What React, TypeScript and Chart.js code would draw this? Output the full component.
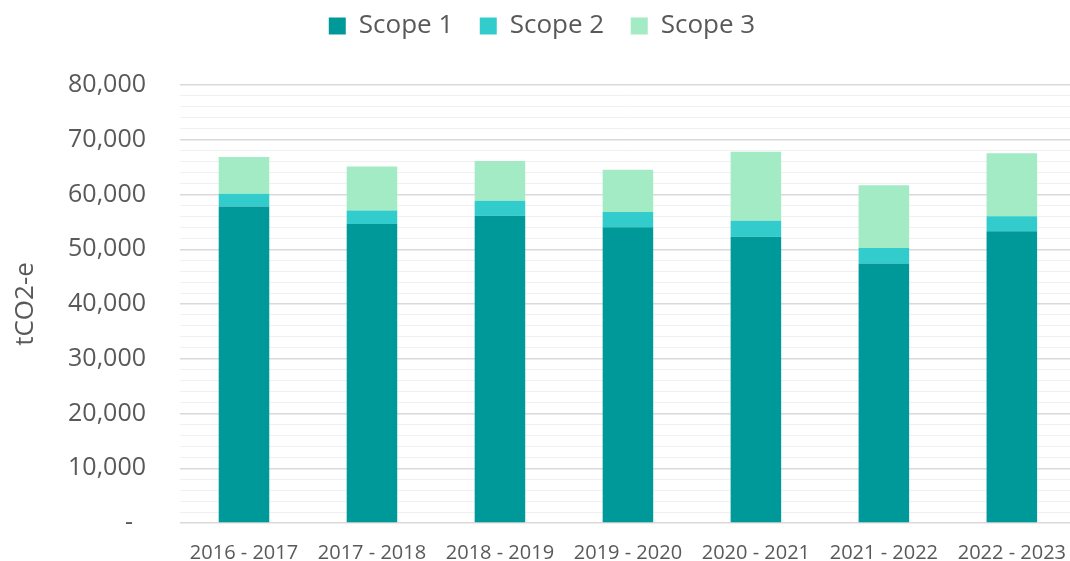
import React, { useEffect, useRef } from 'react';
import { Chart, registerables } from 'chart.js';

Chart.register(...registerables);

// ---- Data ----
const categories = ['2016 - 2017', '2017 - 2018', '2018 - 2019', '2019 - 2020', '2020 - 2021', '2021 - 2022', '2022 - 2023'];
const seriesLabels = ['Scope 1', 'Scope 2', 'Scope 3'];
const scope1 = [57800, 54600, 56100, 54000, 52300, 47400, 53300];
const scope2 = [2350, 2500, 2750, 2800, 2900, 2850, 2750];
const scope3 = [6700, 8000, 7250, 7700, 12600, 11450, 11500];
const yMin = 0;
const yMax = 80000;
const yMinorStep = 2000;
const yMajorStep = 10000;
const yTitle = 'tCO2-e';
const zeroLabel = '-  ';

const seriesColors = ['#009999', '#33CCCC', '#A3EBC4'];
const textColor = '#595959';
const FONT = '"Open Sans", "DejaVu Sans", sans-serif';

export default function App() {
  const ref = useRef<HTMLCanvasElement | null>(null);

  useEffect(() => {
    if (!ref.current) return;
    const values = [scope1, scope2, scope3];
    const chart = new Chart(ref.current, {
      type: 'bar',
      data: {
        labels: categories,
        datasets: seriesLabels.map((label, i) => ({
          label,
          data: values[i],
          backgroundColor: seriesColors[i],
          borderWidth: 0,
          barPercentage: 0.395,
          categoryPercentage: 1,
        })),
      },
      options: {
        animation: false,
        responsive: false,
        maintainAspectRatio: false,
        layout: { padding: 0 },
        plugins: {
          legend: {
            position: 'top',
            align: 'center',
            labels: {
              boxWidth: 17,
              boxHeight: 17,
              padding: 13,
              color: textColor,
              font: { family: FONT, size: 26 },
              generateLabels: (c: any) => {
                const items = Chart.defaults.plugins.legend.labels.generateLabels(c);
                return items.map((it: any, i: number) => ({
                  ...it,
                  text: i < items.length - 1 ? it.text + '  ' : it.text,
                }));
              },
            },
          },
          // spacer between the legend and the plot area
          title: {
            display: true,
            text: ' ',
            weight: 500,
            font: { family: FONT, size: 10 },
            padding: { top: 24, bottom: 0 },
          },
          tooltip: { enabled: false },
        },
        scales: {
          x: {
            stacked: true,
            grid: { display: false, drawTicks: false },
            border: { display: false },
            ticks: {
              color: textColor,
              font: { family: FONT, size: 20 },
              padding: 18,
              maxRotation: 0,
              autoSkip: false,
            },
          },
          y: {
            stacked: true,
            min: yMin,
            max: yMax,
            border: { display: false },
            grid: {
              drawTicks: false,
              color: (ctx: any) => (ctx.tick && ctx.tick.value % yMajorStep === 0 ? '#D9D9D9' : '#F0F0F0'),
              lineWidth: (ctx: any) => (ctx.tick && ctx.tick.value % yMajorStep === 0 ? 1.5 : 1),
            },
            ticks: {
              stepSize: yMinorStep,
              autoSkip: false,
              padding: 34,
              color: textColor,
              font: { family: FONT, size: 25 },
              callback: (v: any) => {
                const n = Number(v);
                if (n === 0) return zeroLabel;
                if (n % yMajorStep === 0) return n.toLocaleString('en-US');
                return '';
              },
            },
            title: {
              display: true,
              text: yTitle,
              color: textColor,
              font: { family: FONT, size: 26 },
              padding: { top: 10, bottom: 0 },
            },
            afterFit: (s: any) => {
              s.width = 180;
            },
          },
        },
      },
    });
    return () => chart.destroy();
  }, []);

  return (
    <div style={{ position: 'fixed', left: 0, top: 0, width: 1070, height: 561, overflow: 'hidden', background: '#fff' }}>
      <canvas ref={ref} width={1084} height={583} style={{ display: 'block' }} />
    </div>
  );
}
